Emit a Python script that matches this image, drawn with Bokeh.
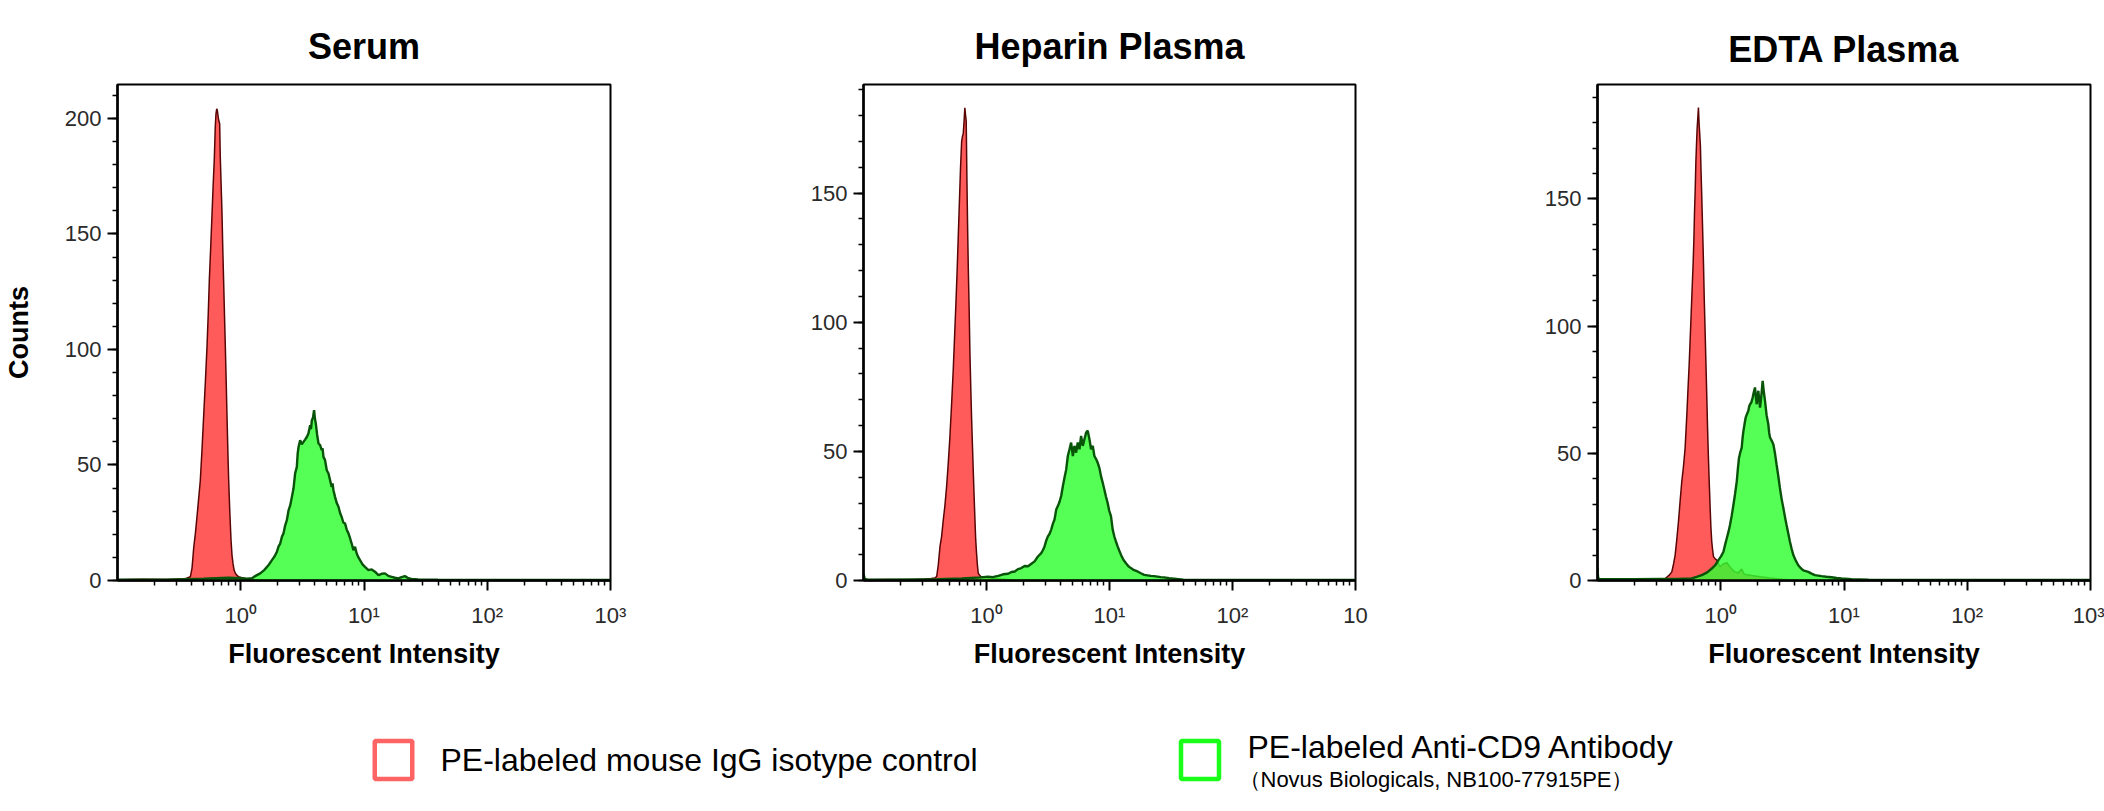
from bokeh.plotting import figure
from bokeh.layouts import row, column
from bokeh.models import Range1d, FixedTicker, SingleIntervalTicker
from bokeh.embed import file_html
from bokeh.resources import INLINE
from bokeh.core.properties import value

# ---------------------------------------------------------------------------
# Histogram data: (log10 fluorescent intensity, counts)
# ---------------------------------------------------------------------------
serum_ctrl = [
    (-1.00, 0.3), (-0.80, 0.5), (-0.60, 0.4), (-0.50, 0.6), (-0.476, 0.6), (-0.440, 1.0),
    (-0.409, 1.6), (-0.395, 5.5), (-0.381, 14.6), (-0.368, 20.4), (-0.350, 30.5), (-0.328, 43.4),
    (-0.314, 57.0), (-0.300, 72.3), (-0.287, 86.0), (-0.274, 101.0), (-0.264, 115.0), (-0.255, 129.9),
    (-0.244, 144.0), (-0.233, 158.7), (-0.224, 171.0), (-0.214, 183.2), (-0.207, 196.0), (-0.201, 202.0),
    (-0.195, 204.2), (-0.190, 203.5), (-0.184, 201.0), (-0.178, 199.0), (-0.171, 197.7), (-0.166, 183.2),
    (-0.159, 171.0), (-0.152, 158.7), (-0.146, 144.0), (-0.139, 129.9), (-0.132, 115.0), (-0.125, 101.0),
    (-0.118, 86.0), (-0.112, 72.3), (-0.105, 57.0), (-0.098, 43.4), (-0.089, 30.0), (-0.079, 17.5),
    (-0.071, 11.0), (-0.063, 7.4), (-0.054, 4.5), (-0.044, 3.1), (-0.030, 2.2), (-0.017, 1.6),
    (0.010, 1.2), (0.036, 0.9), (0.063, 0.3), (0.100, 0.2), (0.300, 0.1), (1.000, 0.0), (3.000, 0.0),
]
serum_cd9 = [
    (-1.00, 0.3), (-0.60, 0.4), (-0.30, 0.8), (-0.10, 1.2), (0.000, 1.0), (0.050, 0.8),
    (0.091, 1.0), (0.120, 2.0), (0.158, 3.1), (0.190, 4.5), (0.226, 6.7), (0.253, 8.8),
    (0.275, 10.5), (0.293, 12.4), (0.307, 14.8), (0.320, 16.0), (0.334, 18.9), (0.347, 20.4),
    (0.360, 23.8), (0.374, 26.1), (0.388, 30.4), (0.401, 32.5), (0.415, 36.2), (0.428, 39.8),
    (0.441, 46.3), (0.455, 49.2), (0.462, 55.0), (0.469, 57.8), (0.482, 60.7), (0.495, 58.9),
    (0.509, 60.0), (0.522, 61.0), (0.536, 62.1), (0.549, 63.6), (0.563, 67.2), (0.570, 65.5),
    (0.577, 69.4), (0.586, 70.5), (0.595, 73.7), (0.602, 70.0), (0.609, 67.9), (0.620, 63.0),
    (0.631, 59.3), (0.644, 58.6), (0.657, 56.4), (0.664, 57.2), (0.671, 53.5), (0.684, 52.1),
    (0.698, 47.7), (0.712, 46.3), (0.725, 43.4), (0.738, 40.5), (0.745, 42.0), (0.752, 39.1),
    (0.765, 36.2), (0.779, 33.5), (0.793, 31.9), (0.806, 29.2), (0.819, 27.5), (0.833, 25.0),
    (0.846, 24.7), (0.860, 22.0), (0.874, 20.4), (0.887, 18.3), (0.900, 16.0), (0.914, 13.1),
    (0.927, 14.6), (0.941, 11.7), (0.955, 10.0), (0.968, 8.8), (0.988, 7.0), (1.008, 5.9),
    (1.036, 4.5), (1.062, 4.8), (1.089, 3.8), (1.117, 2.3), (1.143, 2.9), (1.170, 3.1),
    (1.197, 2.0), (1.224, 1.6), (1.251, 1.2), (1.279, 0.9), (1.305, 1.5), (1.332, 1.9),
    (1.360, 1.0), (1.386, 0.7), (1.440, 0.5), (1.600, 0.3), (2.000, 0.2), (2.500, 0.2), (3.000, 0.2),
]

heparin_ctrl = [
    (-1.00, 0.3), (-0.80, 0.4), (-0.60, 0.3), (-0.50, 0.6), (-0.450, 0.8), (-0.420, 1.0),
    (-0.405, 1.5), (-0.392, 6.0), (-0.378, 13.2), (-0.365, 17.0), (-0.351, 23.6), (-0.338, 29.0),
    (-0.324, 36.6), (-0.310, 46.0), (-0.297, 56.0), (-0.283, 69.0), (-0.270, 82.0), (-0.259, 95.0),
    (-0.248, 108.0), (-0.238, 121.0), (-0.229, 134.0), (-0.220, 147.0), (-0.211, 160.0), (-0.202, 170.0),
    (-0.195, 172.0), (-0.189, 173.0), (-0.182, 178.0), (-0.176, 183.0), (-0.170, 180.0), (-0.165, 178.0),
    (-0.159, 154.7), (-0.154, 138.0), (-0.148, 121.0), (-0.141, 105.0), (-0.135, 88.5), (-0.128, 75.0),
    (-0.121, 62.5), (-0.114, 52.0), (-0.108, 43.0), (-0.101, 33.0), (-0.094, 23.6), (-0.088, 16.0),
    (-0.081, 10.6), (-0.074, 6.0), (-0.067, 2.8), (-0.056, 2.0), (-0.046, 1.5), (-0.020, 1.3),
    (0.000, 1.2), (0.050, 0.8), (0.200, 0.3), (1.000, 0.0), (3.000, 0.0),
]
heparin_cd9 = [
    (-1.00, 2.6), (-0.99, 0.6), (-0.97, 0.4), (-0.80, 0.3), (-0.60, 0.4), (-0.40, 0.5),
    (-0.20, 0.8), (-0.05, 1.2), (0.013, 1.5), (0.050, 1.3), (0.095, 1.8), (0.135, 2.4),
    (0.176, 2.6), (0.203, 3.3), (0.230, 3.5), (0.256, 4.4), (0.283, 4.8), (0.310, 5.6),
    (0.338, 5.5), (0.365, 6.5), (0.391, 7.4), (0.418, 9.3), (0.445, 10.6), (0.459, 11.8),
    (0.472, 13.2), (0.486, 15.5), (0.499, 17.1), (0.512, 18.0), (0.526, 19.7), (0.540, 22.0),
    (0.553, 23.6), (0.567, 27.5), (0.580, 28.8), (0.594, 30.5), (0.607, 32.7), (0.621, 36.6),
    (0.634, 39.8), (0.648, 43.0), (0.661, 48.2), (0.675, 50.8), (0.688, 53.4), (0.702, 48.2),
    (0.715, 52.1), (0.729, 49.5), (0.742, 53.4), (0.756, 50.8), (0.769, 56.0), (0.783, 52.1),
    (0.796, 54.7), (0.810, 57.3), (0.823, 58.0), (0.837, 54.7), (0.850, 50.8), (0.864, 52.1),
    (0.877, 48.2), (0.891, 47.0), (0.904, 45.6), (0.918, 43.5), (0.931, 40.4), (0.944, 38.0),
    (0.958, 35.2), (0.971, 32.5), (0.985, 30.0), (0.998, 27.0), (1.012, 24.9), (1.026, 19.7),
    (1.039, 17.1), (1.053, 15.0), (1.066, 13.2), (1.080, 11.5), (1.093, 10.0), (1.113, 8.0),
    (1.134, 6.7), (1.154, 5.5), (1.174, 4.8), (1.200, 4.0), (1.228, 3.5), (1.255, 2.8),
    (1.282, 2.2), (1.309, 2.0), (1.336, 1.8), (1.363, 1.7), (1.390, 1.5), (1.417, 1.3),
    (1.444, 1.2), (1.485, 0.9), (1.525, 0.7), (1.600, 0.3), (2.000, 0.2), (3.000, 0.2),
]

edta_ctrl = [
    (-1.00, 0.2), (-0.80, 0.3), (-0.60, 0.4), (-0.50, 0.5), (-0.451, 0.8), (-0.420, 2.0),
    (-0.397, 3.4), (-0.383, 6.5), (-0.370, 10.0), (-0.357, 16.0), (-0.343, 23.2), (-0.330, 31.0),
    (-0.316, 39.0), (-0.302, 45.0), (-0.289, 52.2), (-0.275, 65.3), (-0.266, 75.0), (-0.256, 85.1),
    (-0.248, 95.0), (-0.240, 104.9), (-0.232, 115.0), (-0.224, 124.6), (-0.218, 134.0), (-0.213, 144.4),
    (-0.207, 154.0), (-0.202, 164.2), (-0.197, 171.0), (-0.192, 177.3), (-0.186, 182.0), (-0.181, 185.9),
    (-0.176, 180.0), (-0.170, 175.0), (-0.165, 170.8), (-0.160, 161.0), (-0.154, 151.0), (-0.147, 138.0),
    (-0.140, 124.6), (-0.134, 111.0), (-0.127, 98.3), (-0.120, 85.0), (-0.113, 71.9), (-0.107, 60.0),
    (-0.100, 48.2), (-0.093, 38.0), (-0.086, 28.5), (-0.080, 21.0), (-0.073, 15.3), (-0.066, 12.0),
    (-0.059, 9.4), (-0.045, 8.5), (-0.032, 8.0), (-0.018, 6.5), (-0.005, 5.4), (0.020, 6.5),
    (0.050, 7.0), (0.080, 5.0), (0.110, 3.5), (0.140, 3.0), (0.170, 4.5), (0.190, 2.5),
    (0.250, 2.0), (0.320, 1.5), (0.400, 1.0), (0.500, 0.5), (0.600, 0.2), (1.000, 0.0), (3.000, 0.0),
]
edta_cd9 = [
    (-1.00, 5.0), (-0.995, 1.0), (-0.985, 0.6), (-0.90, 0.5), (-0.70, 0.5), (-0.50, 0.6),
    (-0.35, 0.6), (-0.235, 0.8), (-0.190, 1.5), (-0.154, 2.1), (-0.110, 3.2), (-0.073, 4.7),
    (-0.045, 6.0), (-0.019, 8.0), (0.002, 9.5), (0.022, 11.3), (0.035, 14.0), (0.049, 16.6),
    (0.062, 19.0), (0.075, 21.8), (0.089, 25.5), (0.103, 29.8), (0.116, 34.0), (0.130, 39.0),
    (0.139, 44.0), (0.148, 48.2), (0.159, 50.5), (0.170, 52.2), (0.177, 56.0), (0.184, 58.8),
    (0.193, 61.5), (0.202, 64.0), (0.213, 65.5), (0.224, 66.7), (0.231, 68.5), (0.238, 69.3),
    (0.248, 70.0), (0.259, 71.9), (0.268, 74.0), (0.278, 75.9), (0.285, 72.0), (0.292, 69.3),
    (0.298, 72.5), (0.305, 74.6), (0.312, 71.0), (0.319, 68.0), (0.330, 73.0), (0.340, 78.5),
    (0.350, 74.0), (0.359, 70.6), (0.372, 65.0), (0.386, 61.4), (0.393, 58.0), (0.400, 56.2),
    (0.413, 55.0), (0.427, 53.5), (0.440, 50.0), (0.453, 45.6), (0.467, 41.0), (0.480, 36.4),
    (0.494, 32.0), (0.508, 28.5), (0.521, 25.0), (0.534, 21.8), (0.548, 18.5), (0.561, 15.3),
    (0.575, 12.5), (0.589, 10.0), (0.609, 7.8), (0.629, 6.0), (0.650, 4.8), (0.670, 4.0),
    (0.690, 3.7), (0.710, 3.4), (0.737, 2.7), (0.764, 2.1), (0.791, 1.9), (0.818, 1.7),
    (0.858, 1.5), (0.899, 1.3), (0.940, 1.0), (0.980, 0.8), (1.060, 0.5), (1.200, 0.3),
    (2.000, 0.2), (3.000, 0.2),
]

panel_titles = ["Serum", "Heparin Plasma", "EDTA Plasma"]
y_axis_label = "Counts"
x_axis_label = "Fluorescent Intensity"
x_major_ticks = [1, 10, 100, 1000]
x_tick_labels = ["10\u2070", "10\u00b9", "10\u00b2", "10\u00b3"]
x_tick_labels_heparin = ["10\u2070", "10\u00b9", "10\u00b2", "10"]
legend_ctrl = "PE-labeled mouse IgG isotype control"
legend_cd9 = "PE-labeled Anti-CD9 Antibody"
legend_cd9_source = "\uff08Novus Biologicals, NB100-77915PE\uff09"

RED_FILL, RED_LINE = "#ff5b5b", "#5a0505"
GREEN_FILL, GREEN_LINE = "#30ff30", "#085408"
SANS = "Liberation Sans"

minor_x = [m * 10.0 ** e for e in (-1, 0, 1, 2) for m in range(2, 10)]


def unpack(pairs):
    xs = [10.0 ** lx for lx, _ in pairs]
    ys = [c for _, c in pairs]
    return xs, ys


def make_panel(title, ctrl, cd9, y_max, tick_labels, width, left, right, title_gap, show_ylabel):
    p = figure(
        width=width, height=700, title=title,
        x_axis_type="log", x_range=Range1d(0.1, 1000), y_range=Range1d(0, y_max),
        output_backend="svg", toolbar_location=None,
        min_border_left=left, min_border_right=right,
        min_border_top=84, min_border_bottom=120,
        background_fill_color="white", border_fill_color="white",
    )
    p.title.align = "center"
    p.title.text_font = SANS
    p.title.text_font_size = "36px"
    p.title.text_font_style = "bold"
    p.title.text_color = "black"
    p.title.standoff = title_gap

    p.xgrid.grid_line_color = None
    p.ygrid.grid_line_color = None
    p.outline_line_color = "black"
    p.outline_line_width = 2
    p.outline_line_alpha = 1

    p.xaxis.ticker = FixedTicker(ticks=x_major_ticks, minor_ticks=minor_x)
    p.xaxis.major_label_overrides = {t: lab for t, lab in zip(x_major_ticks, tick_labels)}
    p.yaxis.ticker = SingleIntervalTicker(interval=50, num_minor_ticks=5)

    for ax in (p.xaxis[0], p.yaxis[0]):
        ax.axis_line_color = "black"
        ax.axis_line_width = 2.5
        ax.major_tick_line_color = "black"
        ax.major_tick_line_width = 2
        ax.major_tick_in = 0
        ax.major_tick_out = 10
        ax.minor_tick_line_color = "black"
        ax.minor_tick_line_width = 1.5
        ax.minor_tick_in = 0
        ax.minor_tick_out = 5
        ax.major_label_text_font = SANS
        ax.major_label_text_font_size = "22px"
        ax.major_label_text_color = "#2a2a2a"
        ax.axis_label_text_font = SANS
        ax.axis_label_text_font_size = "27px"
        ax.axis_label_text_font_style = "bold"
        ax.axis_label_text_color = "black"

    p.yaxis.major_label_standoff = 6
    p.xaxis.major_label_standoff = 12
    p.xaxis.axis_label = x_axis_label
    p.xaxis.axis_label_standoff = 8
    if show_ylabel:
        p.yaxis.axis_label = y_axis_label
        p.yaxis.axis_label_standoff = 28

    cx, cy = unpack(ctrl)
    gx, gy = unpack(cd9)
    p.varea(x=cx, y1=0, y2=cy, fill_color=RED_FILL)
    p.line(cx, cy, line_color=RED_LINE, line_width=1.5)
    p.varea(x=gx, y1=0, y2=gy, fill_color=GREEN_FILL, fill_alpha=0.82)
    p.line(gx, gy, line_color=GREEN_LINE, line_width=2.4)
    return p


p1 = make_panel(panel_titles[0], serum_ctrl, serum_cd9, 214.7, x_tick_labels,
                740, 115, 130, 35, True)
p2 = make_panel(panel_titles[1], heparin_ctrl, heparin_cd9, 192.0, x_tick_labels_heparin,
                735, 123, 120, 35, False)
p3 = make_panel(panel_titles[2], edta_ctrl, edta_cd9, 195.0, x_tick_labels,
                629, 122, 14, 30, False)

# Legend strip below the panels (coordinates in pixels of the strip)
leg = figure(
    width=2104, height=111, x_range=Range1d(0, 2104), y_range=Range1d(111, 0),
    output_backend="svg", toolbar_location=None,
    x_axis_location=None, y_axis_location=None, min_border=0,
    background_fill_color="white", border_fill_color="white",
)
leg.xgrid.grid_line_color = None
leg.ygrid.grid_line_color = None
leg.outline_line_color = None
leg.rect(x=[393], y=[59.5], width=37.5, height=38, fill_color=None,
         line_color="#ff6464", line_width=4.5)
leg.rect(x=[1199.5], y=[59.5], width=38, height=38, fill_color=None,
         line_color="#1aff1a", line_width=4.5)
leg.text(x=[440], y=[59], text=[legend_ctrl], text_baseline="middle",
         text_font=value(SANS), text_font_size="32px", text_color="black")
leg.text(x=[1247], y=[46], text=[legend_cd9], text_baseline="middle",
         text_font=value(SANS), text_font_size="32px", text_color="black")
leg.text(x=[1238], y=[79], text=[legend_cd9_source], text_baseline="middle",
         text_font=value(SANS), text_font_size="22px", text_color="black")

layout = column(row(p1, p2, p3), leg)
open("out.html", "w").write(file_html(layout, INLINE))
